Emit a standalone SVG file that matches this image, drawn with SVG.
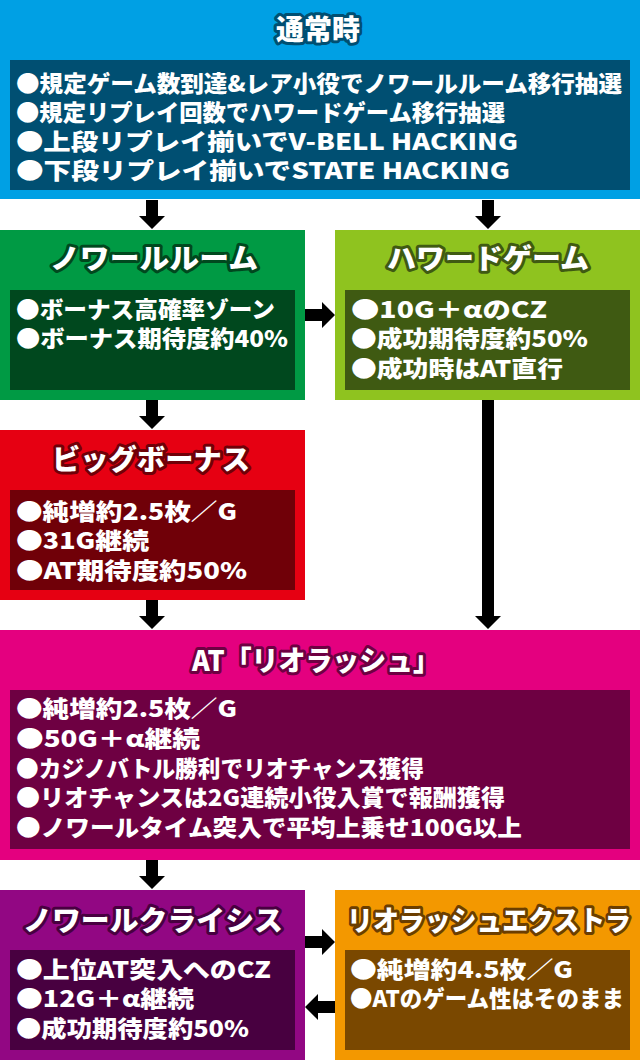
<svg xmlns="http://www.w3.org/2000/svg" width="640" height="1060" viewBox="0 0 640 1060">
<style>
text{font-family:"Noto Sans CJK JP","Noto Sans CJK SC",sans-serif;}
.t{font-size:28px;font-weight:900;fill:#fff;stroke-width:6;stroke-linejoin:round;paint-order:stroke;text-anchor:middle;}
.b{font-size:23px;font-weight:900;fill:#fff;}
.arrow{fill:#000;}
</style>
<rect width="640" height="1060" fill="#fff"/>
<g id="normal">
<rect x="0" y="0" width="640" height="199" fill="#00a0e4"/>
<rect x="10" y="60" width="620" height="130" fill="#004f72"/>
<text class="t" x="318" y="40" stroke="#004f72" textLength="84" lengthAdjust="spacingAndGlyphs">通常時</text>
<text class="b" x="16" y="91.5" textLength="606" lengthAdjust="spacingAndGlyphs">●規定ゲーム数到達&amp;レア小役でノワールルーム移行抽選</text>
<text class="b" x="16" y="120.5" textLength="489" lengthAdjust="spacingAndGlyphs">●規定リプレイ回数でハワードゲーム移行抽選</text>
<text class="b" x="16" y="149.5" textLength="502" lengthAdjust="spacingAndGlyphs">●上段リプレイ揃いでV-BELL HACKING</text>
<text class="b" x="16" y="178.5" textLength="494" lengthAdjust="spacingAndGlyphs">●下段リプレイ揃いでSTATE HACKING</text>
</g>
<g id="noir-room">
<rect x="0" y="230" width="305" height="170" fill="#009a44"/>
<rect x="10" y="290" width="285" height="100" fill="#00481e"/>
<text class="t" x="154" y="269" stroke="#00481e" textLength="208" lengthAdjust="spacingAndGlyphs">ノワールルーム</text>
<text class="b" x="16" y="317.5" textLength="259" lengthAdjust="spacingAndGlyphs">●ボーナス高確率ゾーン</text>
<text class="b" x="16" y="347" textLength="272" lengthAdjust="spacingAndGlyphs">●ボーナス期待度約40%</text>
</g>
<g id="haward-game">
<rect x="335" y="230" width="305" height="170" fill="#8fc31f"/>
<rect x="345" y="290" width="285" height="100" fill="#3f5a12"/>
<text class="t" x="488" y="269" stroke="#3f5a12" textLength="202" lengthAdjust="spacingAndGlyphs">ハワードゲーム</text>
<text class="b" x="351" y="317.5" textLength="196" lengthAdjust="spacingAndGlyphs">●10G＋αのCZ</text>
<text class="b" x="351" y="347" textLength="237" lengthAdjust="spacingAndGlyphs">●成功期待度約50%</text>
<text class="b" x="351" y="376.5" textLength="212" lengthAdjust="spacingAndGlyphs">●成功時はAT直行</text>
</g>
<g id="big-bonus">
<rect x="0" y="430" width="305" height="170" fill="#e60012"/>
<rect x="10" y="490" width="285" height="100" fill="#700008"/>
<text class="t" x="151" y="470" stroke="#700008" textLength="198" lengthAdjust="spacingAndGlyphs">ビッグボーナス</text>
<text class="b" x="16" y="519.5" textLength="221" lengthAdjust="spacingAndGlyphs">●純増約2.5枚／G</text>
<text class="b" x="16" y="549" textLength="133" lengthAdjust="spacingAndGlyphs">●31G継続</text>
<text class="b" x="16" y="578.5" textLength="231" lengthAdjust="spacingAndGlyphs">●AT期待度約50%</text>
</g>
<g id="at-rio-rush">
<rect x="0" y="630" width="640" height="230" fill="#e4007f"/>
<rect x="10" y="690" width="620" height="159" fill="#6e0042"/>
<text class="t" x="316" y="671" stroke="#6e0042" textLength="248" lengthAdjust="spacingAndGlyphs">AT「リオラッシュ」</text>
<text class="b" x="16" y="717" textLength="221" lengthAdjust="spacingAndGlyphs">●純増約2.5枚／G</text>
<text class="b" x="16" y="746.5" textLength="184" lengthAdjust="spacingAndGlyphs">●50G＋α継続</text>
<text class="b" x="16" y="776.5" textLength="408" lengthAdjust="spacingAndGlyphs">●カジノバトル勝利でリオチャンス獲得</text>
<text class="b" x="16" y="805.5" textLength="489" lengthAdjust="spacingAndGlyphs">●リオチャンスは2G連続小役入賞で報酬獲得</text>
<text class="b" x="16" y="835.5" textLength="506" lengthAdjust="spacingAndGlyphs">●ノワールタイム突入で平均上乗せ100G以上</text>
</g>
<g id="noir-crisis">
<rect x="0" y="890" width="305" height="170" fill="#920783"/>
<rect x="10" y="950" width="285" height="100" fill="#480040"/>
<text class="t" x="153" y="931" stroke="#480040" textLength="260" lengthAdjust="spacingAndGlyphs">ノワールクライシス</text>
<text class="b" x="16" y="977.5" textLength="255" lengthAdjust="spacingAndGlyphs">●上位AT突入へのCZ</text>
<text class="b" x="16" y="1007" textLength="178" lengthAdjust="spacingAndGlyphs">●12G＋α継続</text>
<text class="b" x="16" y="1036.5" textLength="233" lengthAdjust="spacingAndGlyphs">●成功期待度約50%</text>
</g>
<g id="rio-rush-extra">
<rect x="335" y="890" width="305" height="170" fill="#f39800"/>
<rect x="345" y="950" width="285" height="100" fill="#7a4800"/>
<text class="t" x="489" y="931" stroke="#6b3e00" textLength="284" lengthAdjust="spacingAndGlyphs">リオラッシュエクストラ</text>
<text class="b" x="350" y="977.5" textLength="223" lengthAdjust="spacingAndGlyphs">●純増約4.5枚／G</text>
<text class="b" x="350" y="1007" textLength="274" lengthAdjust="spacingAndGlyphs">●ATのゲーム性はそのまま</text>
</g>
<g id="connectors">
<path class="arrow" d="M146,200 H158 V216 H165 L152,229 L139,216 H146 Z"/>
<path class="arrow" d="M482,200 H494 V216 H501 L488,229 L475,216 H482 Z"/>
<path class="arrow" d="M146,400 H158 V416 H165 L152,429 L139,416 H146 Z"/>
<path class="arrow" d="M482,400 H494 V616 H501 L488,629 L475,616 H482 Z"/>
<path class="arrow" d="M146,600 H158 V616 H165 L152,629 L139,616 H146 Z"/>
<path class="arrow" d="M146,860 H158 V876 H165 L152,889 L139,876 H146 Z"/>
<path class="arrow" d="M305,309 H322 V302 L335,315 L322,328 V321 H305 Z"/>
<path class="arrow" d="M305,936 H322 V929 L335,942 L322,955 V948 H305 Z"/>
<path class="arrow" d="M335,1001 H318 V994 L305,1007 L318,1020 V1013 H335 Z"/>
</g>
</svg>
